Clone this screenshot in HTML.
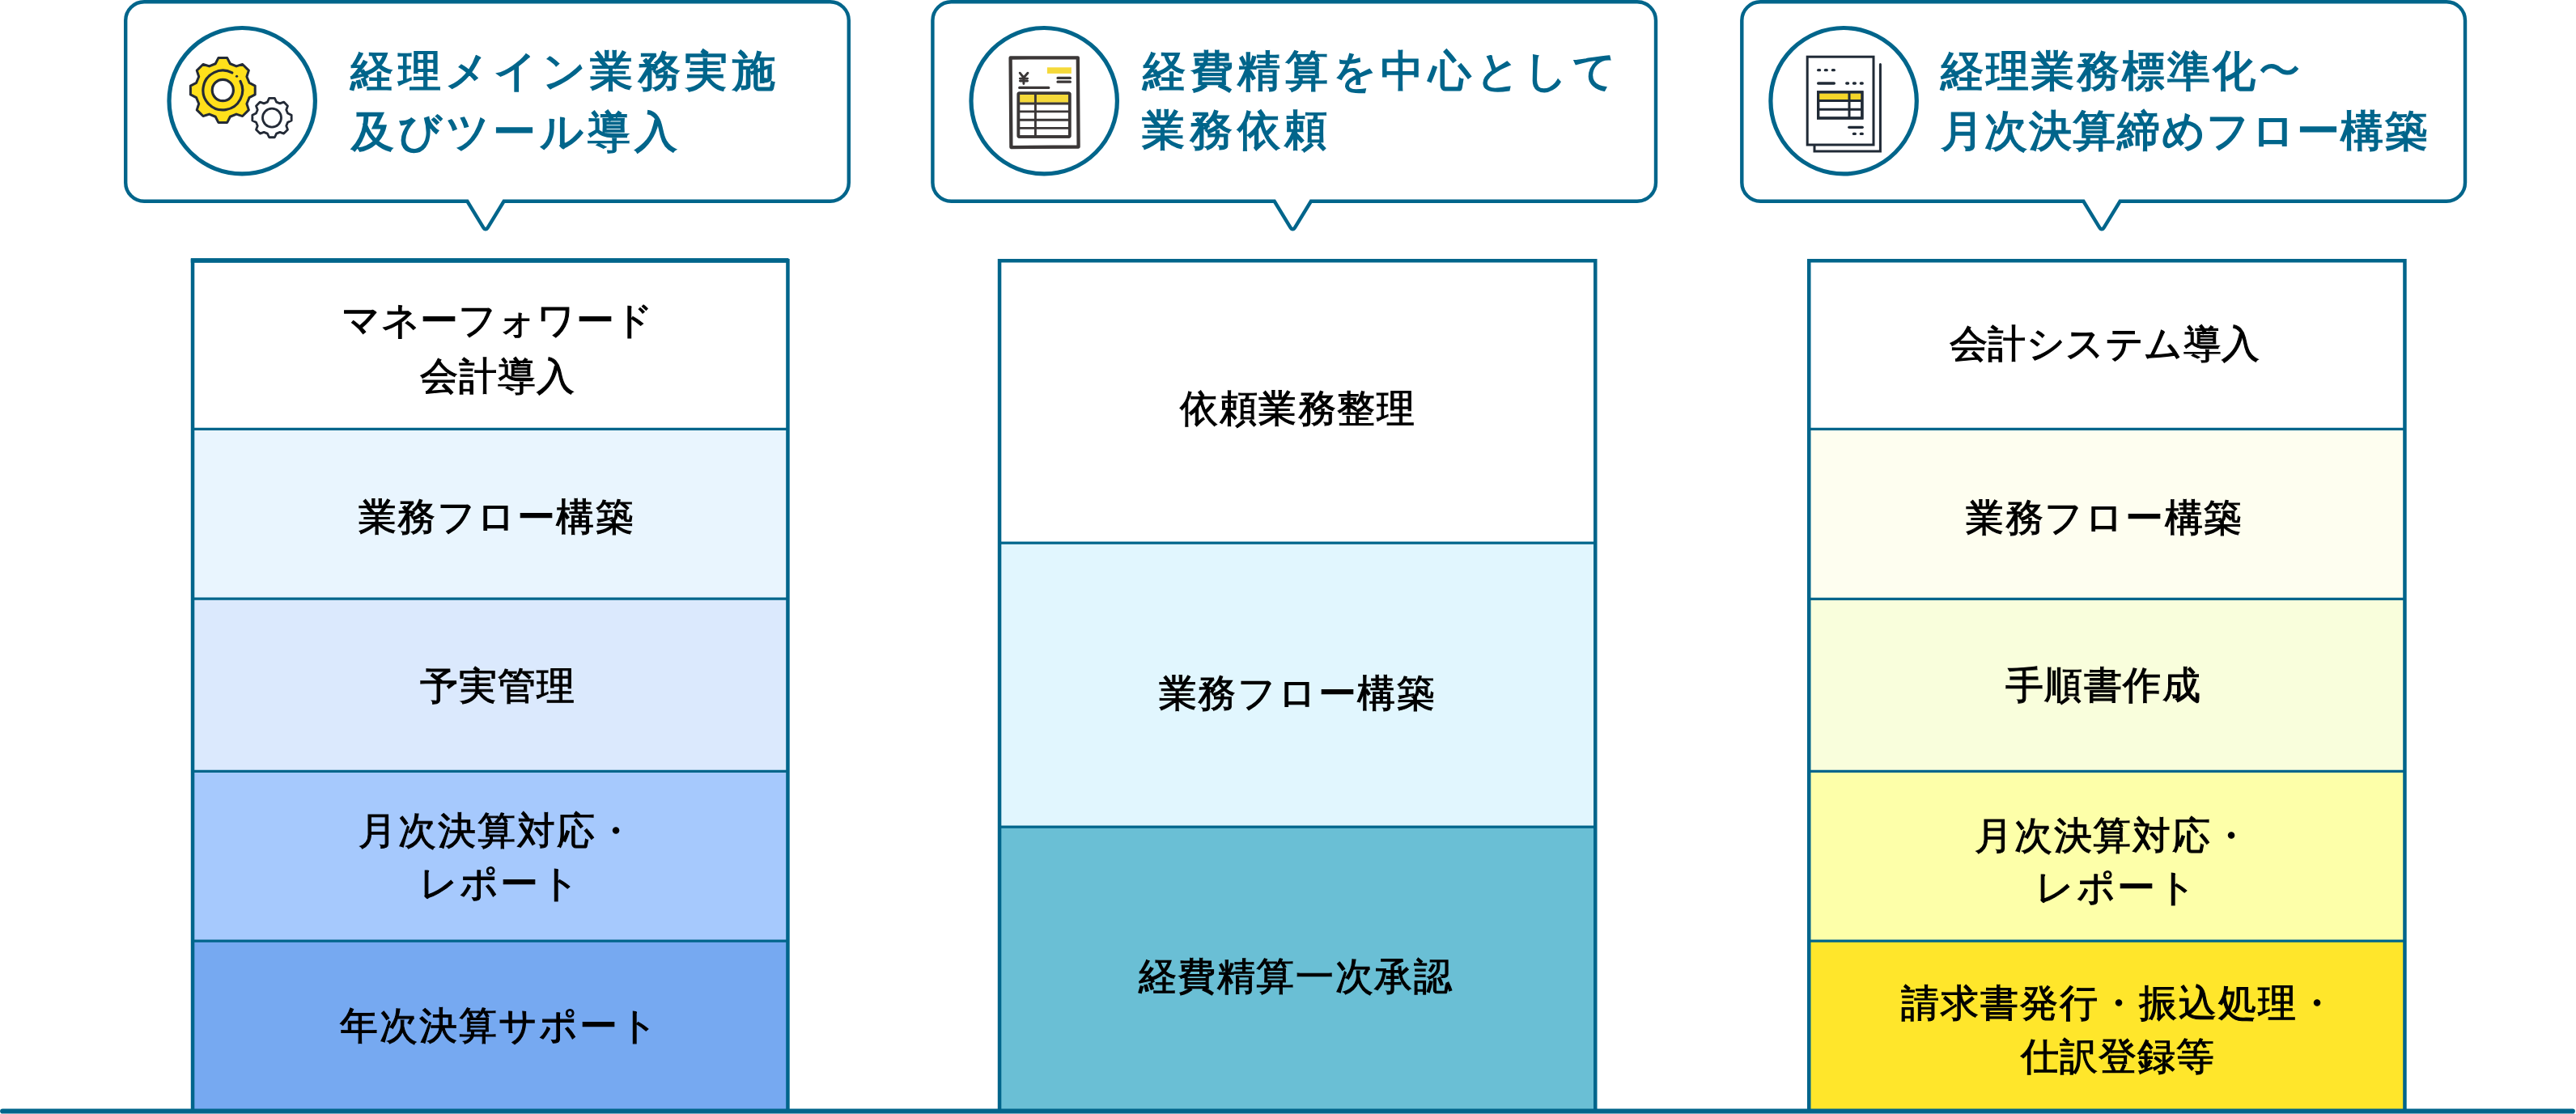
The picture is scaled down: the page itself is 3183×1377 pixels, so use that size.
<!DOCTYPE html>
<html lang="ja"><head><meta charset="utf-8"><title>diagram</title>
<style>
html,body{margin:0;padding:0;background:#fff;}
body{width:3183px;height:1377px;position:relative;overflow:hidden;font-family:"Liberation Sans",sans-serif;}
#txt{position:absolute;left:0;top:0;width:3183px;height:1377px;will-change:transform;}
.h{position:absolute;white-space:nowrap;color:#00658b;font-size:53px;line-height:60px;font-weight:500;-webkit-text-stroke:1.7px #00658b;}
.c{position:absolute;white-space:nowrap;color:#000;font-size:47px;line-height:54px;font-weight:400;-webkit-text-stroke:1.1px #000;}
</style></head><body>
<svg width="3183" height="1377" viewBox="0 0 3183 1377" style="position:absolute;left:0;top:0">
<rect x="238.05" y="322.15" width="735.40" height="208.25" fill="#ffffff"/>
<rect x="238.05" y="530.40" width="735.40" height="209.80" fill="#e9f5fe"/>
<rect x="238.05" y="740.20" width="735.40" height="213.10" fill="#dbe9fd"/>
<rect x="238.05" y="953.30" width="735.40" height="209.80" fill="#a6c9fd"/>
<rect x="238.05" y="1163.10" width="735.40" height="210.40" fill="#76a9f1"/>
<line x1="238.05" x2="973.45" y1="530.40" y2="530.40" stroke="#00658b" stroke-width="3.2"/>
<line x1="238.05" x2="973.45" y1="740.20" y2="740.20" stroke="#00658b" stroke-width="3.2"/>
<line x1="238.05" x2="973.45" y1="953.30" y2="953.30" stroke="#00658b" stroke-width="3.2"/>
<line x1="238.05" x2="973.45" y1="1163.10" y2="1163.10" stroke="#00658b" stroke-width="3.2"/>
<path d="M238.05,1373.5 V322.15 H973.45 V1373.5" fill="none" stroke="#00658b" stroke-width="4.5" stroke-linejoin="miter"/>
<rect x="1235.05" y="322.15" width="736.20" height="348.95" fill="#ffffff"/>
<rect x="1235.05" y="671.10" width="736.20" height="351.00" fill="#e1f6fe"/>
<rect x="1235.05" y="1022.10" width="736.20" height="351.40" fill="#6abfd5"/>
<line x1="1235.05" x2="1971.25" y1="671.10" y2="671.10" stroke="#00658b" stroke-width="3.2"/>
<line x1="1235.05" x2="1971.25" y1="1022.10" y2="1022.10" stroke="#00658b" stroke-width="3.2"/>
<path d="M1235.05,1373.5 V322.15 H1971.25 V1373.5" fill="none" stroke="#00658b" stroke-width="4.5" stroke-linejoin="miter"/>
<rect x="2235.25" y="322.15" width="736.20" height="208.15" fill="#ffffff"/>
<rect x="2235.25" y="530.30" width="736.20" height="210.00" fill="#fefef0"/>
<rect x="2235.25" y="740.30" width="736.20" height="213.00" fill="#f9fedc"/>
<rect x="2235.25" y="953.30" width="736.20" height="209.80" fill="#fdffa9"/>
<rect x="2235.25" y="1163.10" width="736.20" height="210.40" fill="#ffe62b"/>
<line x1="2235.25" x2="2971.45" y1="530.30" y2="530.30" stroke="#00658b" stroke-width="3.2"/>
<line x1="2235.25" x2="2971.45" y1="740.30" y2="740.30" stroke="#00658b" stroke-width="3.2"/>
<line x1="2235.25" x2="2971.45" y1="953.30" y2="953.30" stroke="#00658b" stroke-width="3.2"/>
<line x1="2235.25" x2="2971.45" y1="1163.10" y2="1163.10" stroke="#00658b" stroke-width="3.2"/>
<path d="M2235.25,1373.5 V322.15 H2971.45 V1373.5" fill="none" stroke="#00658b" stroke-width="4.5" stroke-linejoin="miter"/>
<rect x="235.8" y="319.1" width="738.6" height="5.6" fill="#00658b"/>
<line x1="3.2" x2="3178.8" y1="1373.5" y2="1373.5" stroke="#00658b" stroke-width="6.2" stroke-linecap="round"/>
<path d="M178.2,2.2 H1025.8 A23,23 0 0 1 1048.8,25.2 V225.8 A23,23 0 0 1 1025.8,248.8 H622.6 L603.0,280.80 Q600.0,285.7 597.0,280.80 L577.4,248.8 H178.2 A23,23 0 0 1 155.2,225.8 V25.2 A23,23 0 0 1 178.2,2.2 Z" fill="#fff" stroke="#00658b" stroke-width="4.4" stroke-linejoin="miter"/>
<path d="M1175.4,2.2 H2023.0 A23,23 0 0 1 2046.0,25.2 V225.8 A23,23 0 0 1 2023.0,248.8 H1619.8999999999999 L1600.3,280.80 Q1597.3,285.7 1594.3,280.80 L1574.7,248.8 H1175.4 A23,23 0 0 1 1152.4,225.8 V25.2 A23,23 0 0 1 1175.4,2.2 Z" fill="#fff" stroke="#00658b" stroke-width="4.4" stroke-linejoin="miter"/>
<path d="M2175.3,2.2 H3023.0 A23,23 0 0 1 3046.0,25.2 V225.8 A23,23 0 0 1 3023.0,248.8 H2619.6 L2600.0,280.80 Q2597.0,285.7 2594.0,280.80 L2574.4,248.8 H2175.3 A23,23 0 0 1 2152.3,225.8 V25.2 A23,23 0 0 1 2175.3,2.2 Z" fill="#fff" stroke="#00658b" stroke-width="4.4" stroke-linejoin="miter"/>
<circle cx="299.2" cy="124.7" r="90.2" fill="#fff" stroke="#00658b" stroke-width="5.2"/>
<circle cx="1290.2" cy="124.7" r="90.2" fill="#fff" stroke="#00658b" stroke-width="5.2"/>
<circle cx="2278.1" cy="124.7" r="90.2" fill="#fff" stroke="#00658b" stroke-width="5.2"/>
<g stroke="#232a36" stroke-linejoin="round" stroke-linecap="round">
<path d="M284.39,78.74 L280.76,71.62 L269.84,71.62 L266.21,78.74 L258.56,81.91 L250.96,79.44 L243.24,87.16 L245.71,94.76 L242.54,102.41 L235.42,106.04 L235.42,116.96 L242.54,120.59 L245.71,128.24 L243.24,135.84 L250.96,143.56 L258.56,141.09 L266.21,144.26 L269.84,151.38 L280.76,151.38 L284.39,144.26 L292.04,141.09 L299.64,143.56 L307.36,135.84 L304.89,128.24 L308.06,120.59 L315.18,116.96 L315.18,106.04 L308.06,102.41 L304.89,94.76 L307.36,87.16 L299.64,79.44 L292.04,81.91 Z" fill="#ffe01b" stroke-width="3"/>
<path d="M286.76,89.96 A24.4,24.4 0 1 0 297.04,100.42" fill="none" stroke-width="3.2"/>
<circle cx="292.55" cy="94.25" r="1.6" fill="#232a36" stroke="none"/>
<circle cx="275.3" cy="111.5" r="13.1" fill="#fff" stroke-width="3.2"/>
<path d="M341.60,126.09 L339.40,121.44 L332.60,121.44 L330.40,126.09 L326.16,127.85 L321.32,126.11 L316.51,130.92 L318.25,135.76 L316.49,140.00 L311.84,142.20 L311.84,149.00 L316.49,151.20 L318.25,155.44 L316.51,160.28 L321.32,165.09 L326.16,163.35 L330.40,165.11 L332.60,169.76 L339.40,169.76 L341.60,165.11 L345.84,163.35 L350.68,165.09 L355.49,160.28 L353.75,155.44 L355.51,151.20 L360.16,149.00 L360.16,142.20 L355.51,140.00 L353.75,135.76 L355.49,130.92 L350.68,126.11 L345.84,127.85 Z" fill="#fff" stroke-width="2.8"/>
<circle cx="336.0" cy="145.6" r="11.5" fill="#fff" stroke-width="2.8"/>
</g>
<g stroke="#3b3737" stroke-linejoin="round" stroke-linecap="round" fill="none">
<path d="M1248.6,71.5 L1331.8,71.3 L1332.6,181.5 L1249.4,182.1 Z" fill="#fff" stroke-width="4.3"/>
<rect x="1293.9" y="83.3" width="29.9" height="7.6" fill="#f5d93a" stroke="none"/>
<path d="M1307,96.4 H1322.4 M1307,101.2 H1322.4" stroke-width="3.2"/>
<path d="M1259.7,108.4 H1295.8" stroke-width="3.1"/>
<path d="M1260.2,90.2 L1264.9,96 L1269.9,90.2 M1264.9,96 V103.6 M1260.4,97.1 H1269.6 M1260.4,100.1 H1269.6" stroke-width="2.9"/>
<rect x="1258.4" y="115.2" width="63.3" height="53.9" rx="1" fill="#fff" stroke-width="3.5"/>
<rect x="1260" y="116.8" width="60" height="10" fill="#f5d93a" stroke="none"/>
<path d="M1258.4,128 H1321.7 M1258.4,137.9 H1321.7 M1258.4,148.3 H1321.7 M1258.4,158.4 H1321.7 M1279.4,115.2 V169.1" stroke-width="2.9" stroke-linecap="butt"/>
<rect x="1258.4" y="115.2" width="63.3" height="53.9" rx="1" fill="none" stroke-width="3.5"/>
</g>
<g stroke="#202a36" stroke-linejoin="miter" stroke-linecap="round" fill="none">
<path d="M2242,180.5 V187.1 H2323.4 V79.4" stroke-width="3" />
<rect x="2233.2" y="70.2" width="81.8" height="108.8" fill="#fff" stroke-width="3"/>
<path d="M2246.65,86.65 H2248.55" stroke-width="3.3"/>
<path d="M2255.35,86.65 H2257.25" stroke-width="3.3"/>
<path d="M2264.45,86.65 H2266.35" stroke-width="3.3"/>
<path d="M2246.65,103 H2266.35" stroke-width="3.3"/>
<path d="M2281.75,103 H2283.55" stroke-width="3.3"/>
<path d="M2290.45,103 H2292.35" stroke-width="3.3"/>
<path d="M2299.35,103 H2301.25" stroke-width="3.3"/>
<rect x="2246.6" y="113.9" width="54.3" height="32.1" fill="#fff" stroke-width="3.2"/>
<rect x="2248" y="115.4" width="51.8" height="8" fill="#f5d629" stroke="none"/>
<path d="M2246.6,124.4 H2300.9 M2246.6,135.3 H2300.9 M2285,113.9 V146" stroke-width="3" stroke-linecap="butt"/>
<rect x="2246.6" y="113.9" width="54.3" height="32.1" fill="none" stroke-width="3.2"/>
<path d="M2284.75,157.3 H2301.25" stroke-width="3.3"/>
<path d="M2290.45,165.4 H2292.35" stroke-width="3.3"/>
<path d="M2299.35,165.4 H2301.25" stroke-width="3.3"/>
</g>
</svg>
<div id="txt">
<div class="h" style="left:433.2px;top:57.8px;letter-spacing:5.58px">経理メイン業務実施</div>
<div class="h" style="left:433.7px;top:132.8px;letter-spacing:4.92px">及びツール導入</div>
<div class="h" style="left:1412.2px;top:58.2px;letter-spacing:5.62px">経費精算を中心として</div>
<div class="h" style="left:1411.2px;top:131.4px;letter-spacing:5.74px">業務依頼</div>
<div class="h" style="left:2397.7px;top:58.2px;letter-spacing:3.00px">経理業務標準化<span style="-webkit-text-stroke:0">〜</span></div>
<div class="h" style="left:2397.5px;top:132.4px;letter-spacing:1.63px">月次決算締めフロー構築</div>
<div class="c" style="left:422.1px;top:369.3px;letter-spacing:0.44px">マネーフォワード</div>
<div class="c" style="left:518.5px;top:437.8px;letter-spacing:1.06px">会計導入</div>
<div class="c" style="left:442.9px;top:612.2px;letter-spacing:1.51px">業務フロー構築</div>
<div class="c" style="left:518.7px;top:820.6px;letter-spacing:1.24px">予実管理</div>
<div class="c" style="left:442.8px;top:999.6px;letter-spacing:2.01px">月次決算対応・</div>
<div class="c" style="left:518.0px;top:1064.6px;letter-spacing:2.20px">レポート</div>
<div class="c" style="left:419.5px;top:1241.1px;letter-spacing:2.02px">年次決算サポート</div>
<div class="c" style="left:1458.0px;top:478.0px;letter-spacing:1.51px">依頼業務整理</div>
<div class="c" style="left:1431.8px;top:830.4px;letter-spacing:1.68px">業務フロー構築</div>
<div class="c" style="left:1406.7px;top:1179.6px;letter-spacing:1.58px">経費精算一次承認</div>
<div class="c" style="left:2408.7px;top:397.9px;letter-spacing:0.50px">会計システム導入</div>
<div class="c" style="left:2429.0px;top:612.8px;letter-spacing:1.72px">業務フロー構築</div>
<div class="c" style="left:2478.0px;top:820.3px;letter-spacing:1.38px">手順書作成</div>
<div class="c" style="left:2439.7px;top:1005.8px;letter-spacing:1.93px">月次決算対応・</div>
<div class="c" style="left:2515.3px;top:1070.2px;letter-spacing:2.44px">レポート</div>
<div class="c" style="left:2349.1px;top:1213.2px;letter-spacing:2.01px">請求書発行・振込処理・</div>
<div class="c" style="left:2496.9px;top:1278.6px;letter-spacing:0.99px">仕訳登録等</div>
</div>
</body></html>
